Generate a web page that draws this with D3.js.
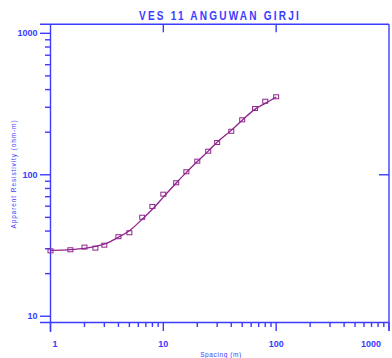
<!DOCTYPE html>
<html>
<head>
<meta charset="utf-8">
<script src="https://cdn.jsdelivr.net/npm/d3@7"></script>
<style>
  body { margin: 0; background: #fff; }
  svg { display: block; }
</style>
</head>
<body>
<div id="chart"></div>
<script>
// measured sounding (AB/2 in m, apparent resistivity in ohm-m)
const spacing = [1, 1.5, 2, 2.5, 3, 4, 5, 6.5, 8, 10, 13, 16, 20, 25, 30, 40, 50, 65, 80, 100]
const rhoObs = [29.0, 29.5, 30.8, 30.3, 31.8, 36.5, 38.9, 50.1, 59.7, 72.9, 87.8, 105, 124.8, 146.8, 169, 203, 244.7, 294, 331, 356]
// fitted model curve
const modelSpacing = [1, 1.5, 2, 2.5, 3, 4, 5, 6.5, 8, 10, 13, 16, 20, 25, 30, 40, 50, 65, 80, 100]
const rhoModel = [29.2, 29.6, 30.2, 31.2, 32.3, 36.2, 40.2, 48.5, 57, 69.5, 87.5, 104, 124, 147, 170, 206, 243, 291, 320, 354]
const xTickLabels = [1, 10, 100, 1000]
const yTickLabels = [10, 100, 1000]

const width = 392, height = 358
const blue = '#3b3bff'
const purple = '#8e248e'

const svg = d3.select('#chart').append('svg')
  .attr('width', width).attr('height', height)

const x = d3.scaleLog().domain([1, 1000]).range([50.5, 389])
const y = d3.scaleLog().domain([9.03, 1158]).range([322.5, 24.3])

const x0 = x.range()[0], x1 = x.range()[1]
const yb = y.range()[0], yt = y.range()[1]

// minor tick values (2..9 per decade)
const minorX = []
const minorY = []
for (const d of [1, 10, 100]) {
  for (let k = 2; k <= 9; k++) minorX.push(d * k)
}
for (const d of [10, 100]) {
  for (let k = 2; k <= 9; k++) minorY.push(d * k)
}

const axes = svg.append('g').attr('stroke', blue).attr('stroke-width', 1.4)

// frame
axes.append('line').attr('x1', 40).attr('x2', x1).attr('y1', yt).attr('y2', yt)
axes.append('line').attr('x1', 40).attr('x2', x1).attr('y1', yb).attr('y2', yb)
axes.append('line').attr('x1', x0).attr('x2', x0).attr('y1', yt).attr('y2', 332)
axes.append('line').attr('x1', x1).attr('x2', x1).attr('y1', yt).attr('y2', 331)

// bottom ticks
axes.selectAll('.xmaj').data(xTickLabels).enter().append('line')
  .attr('x1', d => x(d)).attr('x2', d => x(d))
  .attr('y1', yb).attr('y2', 331)
axes.selectAll('.xmin').data(minorX).enter().append('line')
  .attr('x1', d => x(d)).attr('x2', d => x(d))
  .attr('y1', yb).attr('y2', 327)

// top ticks (inside)
axes.selectAll('.xtop').data([10, 100]).enter().append('line')
  .attr('x1', d => x(d)).attr('x2', d => x(d))
  .attr('y1', yt).attr('y2', yt + 8)

// left ticks
axes.selectAll('.ymaj').data(yTickLabels).enter().append('line')
  .attr('x1', 40).attr('x2', x0)
  .attr('y1', d => y(d)).attr('y2', d => y(d))
axes.selectAll('.ymin').data(minorY).enter().append('line')
  .attr('x1', 45).attr('x2', x0)
  .attr('y1', d => y(d)).attr('y2', d => y(d))

// right tick (inside)
axes.append('line').attr('x1', x1 - 10).attr('x2', x1)
  .attr('y1', y(100)).attr('y2', y(100))

// tick labels
svg.selectAll('.xlab').data(xTickLabels).enter().append('text')
  .attr('x', (d, i) => x(d) + (i === 0 ? 4.5 : (i === xTickLabels.length - 1 ? -18 : 0)))
  .attr('y', 347)
  .attr('text-anchor', 'middle')
  .attr('font-family', 'Liberation Sans, Arial, sans-serif')
  .attr('font-weight', 'bold')
  .attr('font-size', 9)
  .attr('fill', blue)
  .text(d => d)

svg.selectAll('.ylab').data(yTickLabels).enter().append('text')
  .attr('x', 37.5)
  .attr('y', d => y(d))
  .attr('dy', '0.35em')
  .attr('text-anchor', 'end')
  .attr('font-family', 'Liberation Sans, Arial, sans-serif')
  .attr('font-weight', 'bold')
  .attr('font-size', 9)
  .attr('fill', blue)
  .text(d => d)

// titles (condensed)
svg.append('text')
  .attr('transform', 'translate(220,20) scale(0.84,1)')
  .attr('text-anchor', 'middle')
  .attr('font-family', 'Liberation Sans, Arial, sans-serif')
  .attr('font-weight', 'bold')
  .attr('font-size', 12)
  .attr('letter-spacing', 2.6)
  .attr('fill', blue)
  .text('VES 11 ANGUWAN GIRJI')

svg.append('text')
  .attr('x', 221).attr('y', 357)
  .attr('text-anchor', 'middle')
  .attr('font-family', 'Liberation Sans, Arial, sans-serif')
  .attr('font-size', 6.5)
  .attr('letter-spacing', 0.6)
  .attr('fill', blue)
  .text('Spacing (m)')

svg.append('text')
  .attr('transform', 'translate(16,174) rotate(-90)')
  .attr('text-anchor', 'middle')
  .attr('font-family', 'Liberation Sans, Arial, sans-serif')
  .attr('font-size', 6.5)
  .attr('letter-spacing', 0.9)
  .attr('fill', blue)
  .text('Apparent Resistivity (ohm-m)')

// model curve
const line = d3.line()
  .x(d => x(d[0]))
  .y(d => y(d[1]))
  .curve(d3.curveCatmullRom)

svg.append('path')
  .datum(d3.zip(modelSpacing, rhoModel))
  .attr('d', line)
  .attr('fill', 'none')
  .attr('stroke', purple)
  .attr('stroke-width', 1.3)

// observed points
svg.selectAll('.pt').data(d3.zip(spacing, rhoObs)).enter().append('rect')
  .attr('x', d => x(d[0]) - 2.5)
  .attr('y', d => y(d[1]) - 2)
  .attr('width', 5)
  .attr('height', 4)
  .attr('fill', 'none')
  .attr('stroke', purple)
  .attr('stroke-width', 1)
</script>
</body>
</html>
